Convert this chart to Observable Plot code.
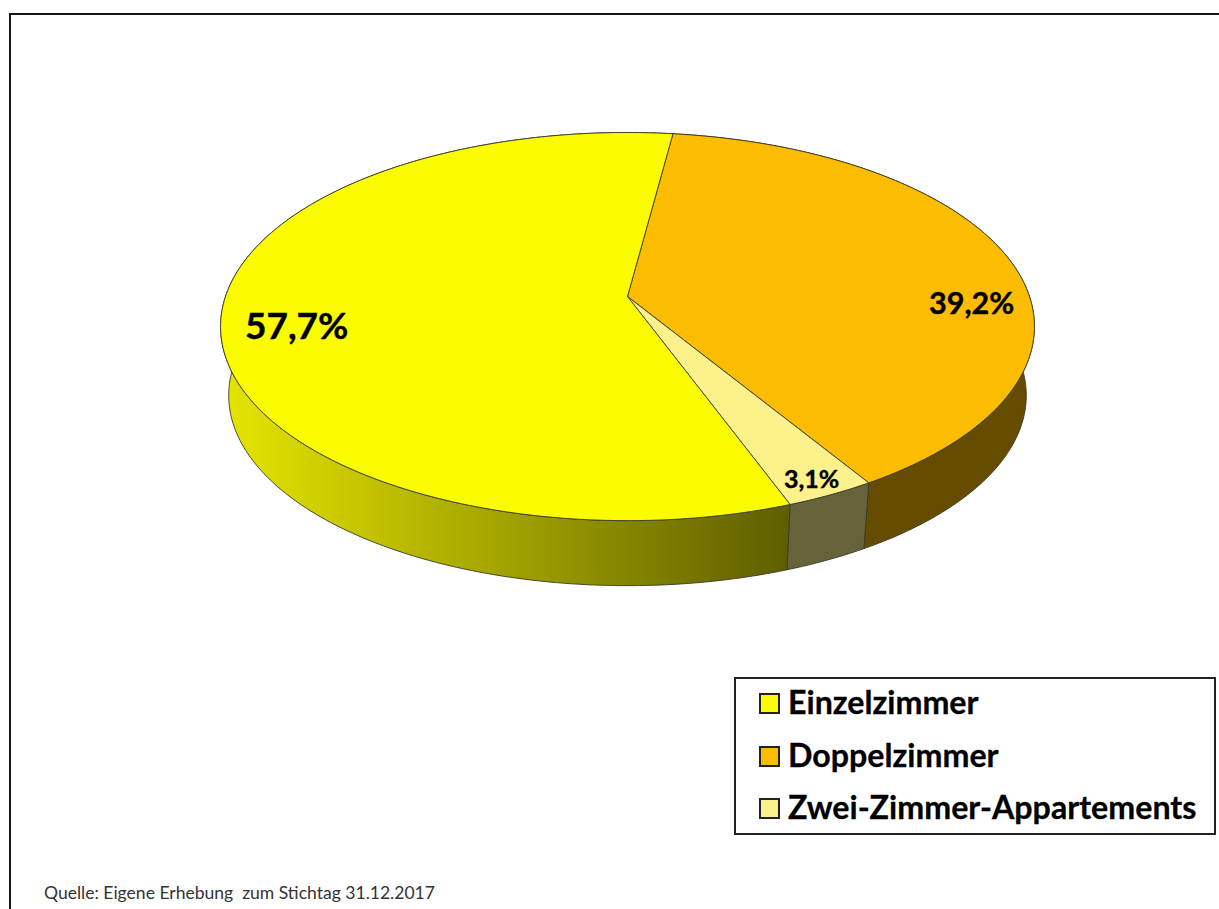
<!DOCTYPE html>
<html lang="de">
<head>
<meta charset="utf-8">
<title>Zimmerarten</title>
<script src="https://cdn.jsdelivr.net/npm/d3@7"></script>
<script src="https://cdn.jsdelivr.net/npm/@observablehq/plot@0.6"></script>
<style>
  html, body { margin: 0; padding: 0; background: #fff; overflow: hidden; }
  #page { position: relative; width: 1219px; height: 909px; overflow: hidden; font-family: Lato, "Noto Sans", sans-serif; }
  #page svg { position: absolute; left: 0; top: 0; }
  #frame { position: absolute; left: 9px; top: 13px; width: 1300px; height: 1000px; border: 2.5px solid #141414; box-sizing: border-box; }
  #legend { position: absolute; left: 734px; top: 677px; width: 482px; height: 158px; border: 2px solid #222; box-sizing: border-box; background: #fff; }
  .row { position: absolute; left: 0; right: 0; height: 40px; font-weight: 700; font-size: 32.2px; line-height: 40px; color: #000; white-space: nowrap; -webkit-text-stroke: 0.3px #000; }
  .sw { position: absolute; left: 23px; top: 8px; width: 21px; height: 21px; border: 2px solid #222; box-sizing: border-box; }
  .lb { position: absolute; left: 52px; top: -3px; }
  #caption { position: absolute; left: 44px; top: 882px; font-size: 17.55px; line-height: 22px; color: #333; white-space: pre; }
</style>
</head>
<body>
<div id="page"></div>
<script>
// Data
const categories = ["Doppelzimmer", "Zwei-Zimmer-Appartements", "Einzelzimmer"];
const shares = [39.2, 3.1, 57.7];
const shareLabels = ["39,2%", "3,1%", "57,7%"];
const legendOrder = ["Einzelzimmer", "Doppelzimmer", "Zwei-Zimmer-Appartements"];
const topColors = ["#fcbc00", "#fdf18b", "#fcfc00"];
const wallColors = ["#664c00", "#66633a", "url(#wallGradient)"];
const caption = "Quelle: Eigene Erhebung  zum Stichtag 31.12.2017";

// Label anchors in pie units, font sizes
const labelX = [0.856, 0.458, -0.823];
const labelY = [-0.042, -0.971, -0.164];
const labelSize = [30.5, 25, 37];

// Picture geometry
const W = 1219, H = 909;
const apexPx = [627, 296];      // where the slices meet
const unitPx = [402, 189.4];    // screen size of one pie unit
const k = 0.155;                // perspective strength
const startAngle = 7.5;         // degrees clockwise from the back of the pie
const wallDrop = 69.5 / 189.4;  // thickness of the disc, in pie units
const wallScale = 0.98;         // the lower rim is slightly smaller

function rim(deg, s = 1, drop = 0) {
  const t = deg * Math.PI / 180, u = Math.sin(t), v = Math.cos(t), w = 1 + k * v;
  return {x: s * u / w, y: s * v / w - drop};
}

// Slice angle ranges come from the shares
let acc = startAngle;
const slices = categories.map((name, i) => {
  const a0 = acc, a1 = acc + shares[i] * 3.6;
  acc = a1;
  return {name, i, a0, a1};
});
const steps = (a0, a1) => [...d3.range(a0, a1, 1), a1];

const topPoints = slices.flatMap(s => {
  const ring = steps(s.a0, s.a1).map(a => rim(a));
  return [{x: 0, y: 0}, ...ring, {x: 0, y: 0}].map(p => ({...p, name: s.name}));
});
const wallPoints = slices.flatMap(s => {
  const upper = steps(s.a0, s.a1).map(a => rim(a));
  const lower = steps(s.a0, s.a1).reverse().map(a => rim(a, wallScale, wallDrop));
  return [...upper, ...lower, upper[0]].map(p => ({...p, name: s.name}));
});
const labels = slices.map(s => ({text: shareLabels[s.i], x: labelX[s.i], y: labelY[s.i], size: labelSize[s.i]}));

const gradient = (index, scales) => {
  const ns = "http://www.w3.org/2000/svg";
  const defs = document.createElementNS(ns, "defs");
  const g = document.createElementNS(ns, "linearGradient");
  g.setAttribute("id", "wallGradient");
  g.setAttribute("gradientUnits", "userSpaceOnUse");
  g.setAttribute("x1", scales.x(-1.012));
  g.setAttribute("x2", scales.x(0.403));
  g.setAttribute("y1", 0);
  g.setAttribute("y2", 0);
  [["0%", "#e6e600"], ["100%", "#5e5e00"]].forEach(([o, c]) => {
    const st = document.createElementNS(ns, "stop");
    st.setAttribute("offset", o);
    st.setAttribute("stop-color", c);
    g.appendChild(st);
  });
  defs.appendChild(g);
  return defs;
};

const edge = {stroke: "#3a3a2a", strokeWidth: 0.9, curve: "linear"};
const chart = Plot.plot({
  width: W, height: H,
  margin: 0,
  style: {background: "transparent", overflow: "visible"},
  x: {axis: null, domain: [-apexPx[0] / unitPx[0], (W - apexPx[0]) / unitPx[0]], range: [0, W]},
  y: {axis: null, domain: [-(H - apexPx[1]) / unitPx[1], apexPx[1] / unitPx[1]], range: [H, 0]},
  marks: [
    gradient,
    ...slices.map(s => Plot.line(wallPoints.filter(p => p.name === s.name), {
      x: "x", y: "y", fill: wallColors[s.i], ...edge
    })),
    ...slices.map(s => Plot.line(topPoints.filter(p => p.name === s.name), {
      x: "x", y: "y", fill: topColors[s.i], ...edge
    })),
    ...labels.map(l => Plot.text([l], {
      x: "x", y: "y", text: "text", fontSize: l.size, fontWeight: 700,
      fontFamily: "Lato, 'Noto Sans', sans-serif", fill: "#000", stroke: "#000", strokeWidth: 0.4
    }))
  ]
});

const page = document.getElementById("page");
page.appendChild(chart);

const frame = document.createElement("div");
frame.id = "frame";
page.appendChild(frame);

const legend = document.createElement("div");
legend.id = "legend";
const rowTops = [6, 59, 111];
legendOrder.forEach((name, j) => {
  const color = topColors[categories.indexOf(name)];
  const row = document.createElement("div");
  row.className = "row";
  row.style.top = rowTops[j] + "px";
  const sw = document.createElement("div");
  sw.className = "sw";
  sw.style.background = color;
  const lb = document.createElement("div");
  lb.className = "lb";
  lb.textContent = name;
  row.append(sw, lb);
  legend.appendChild(row);
});
page.appendChild(legend);

const cap = document.createElement("div");
cap.id = "caption";
cap.textContent = caption;
page.appendChild(cap);
</script>
</body>
</html>
